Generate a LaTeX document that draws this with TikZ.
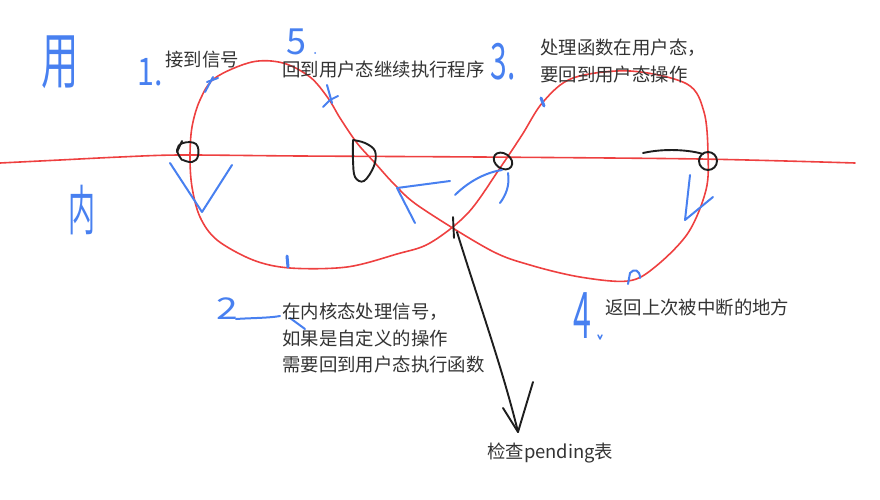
\documentclass[tikz,border=0pt]{standalone}
\usepackage{fontspec}
\setmainfont{Noto Sans CJK SC}
\definecolor{penred}{RGB}{238,64,64}
\definecolor{penblue}{RGB}{72,128,240}
\definecolor{penblack}{RGB}{30,30,30}
\definecolor{txt}{RGB}{51,51,51}
\begin{document}
\begin{tikzpicture}[x=1pt,y=-1pt,
  redpen/.style={draw=penred, line width=1.6pt, line cap=round, line join=round},
  bluepen/.style={draw=penblue, line width=2pt, line cap=round, line join=round},
  blackpen/.style={draw=penblack, line width=1.9pt, line cap=round, line join=round},
  lbl/.style={text=txt, font=\fontsize{18.4}{22}\selectfont, anchor=west, inner sep=0pt},
  hand/.style={text=penblue, inner sep=0pt}]
\useasboundingbox (0,0) rectangle (880,500);
% horizontal divider
\draw[redpen] plot[smooth] coordinates {(0,163) (60,160) (120,157) (180,155) (300,156) (480,157) (700,159) (855,163)};
% figure eight
\draw[redpen] plot[smooth cycle, tension=0.55] coordinates {(430,243) (468,213) (500,168) (522,135) (543,102) (573,78) (630,71) (687,84) (704,112) (708,153) (706,190) (688,233) (655,267) (628,281) (580,277) (530,265) (490,250) (420,207) (395,185) (375,163) (357,143) (340,118) (328,98) (310,77) (283,63) (252,62) (215,78) (200,100) (192,127) (190,157) (192,187) (200,217) (217,240) (253,260) (290,268) (347,267) (397,254)};
% black marks
\draw[blackpen] plot[smooth, tension=0.7] coordinates {(182,160) (177,150) (183,143) (196,144) (198,156) (192,162) (183,160)};
\draw[blackpen] (177,152) -- (182,141);
\draw[blackpen] plot[smooth, tension=0.6] coordinates {(353,140) (353,160) (355,177) (364,181) (374,166) (375,151) (365,143) (353,140)};
\draw[blackpen, rotate around={-35:(503,161)}] (503,161) ellipse [x radius=10, y radius=7.5];
\draw[blackpen] (643,153) .. controls (665,148) and (690,150) .. (703,154);
\draw[blackpen] (708,161) circle [radius=9];
\draw[blackpen] (453,217) -- (454,238);
\coordinate (tip) at (518,432);
\draw[blackpen] (457,232) .. controls (478,300) and (503,370) .. (tip);
\draw[blackpen] (503,408) -- (tip) -- (533,382);
% blue direction marks
\draw[bluepen] (170,163) -- (202,212) -- (232,165);
\draw[bluepen] (450,181) -- (397,188) -- (415,223);
\draw[bluepen] (455,195) .. controls (470,180) and (488,172) .. (502,170);
\draw[bluepen] (508,173) .. controls (510,185) and (506,195) .. (500,203);
\draw[bluepen] (690,175) -- (685,220) -- (713,197);
\draw[bluepen] (205,92) -- (213,77);
\draw[bluepen] (207,82) -- (218,78);
\draw[bluepen] (323,107) -- (330,100) -- (338,96);
\draw[bluepen] (327,85) -- (332,103);
\draw[bluepen, line width=3pt] (287,256) -- (288,267);
\draw[bluepen, line width=3pt] (541,98) -- (544,106);
\draw[bluepen] (628,284) -- (630,273) .. controls (634,268) and (640,270) .. (640,278);
\fill[penblue] (315,53) circle [radius=1];
\draw[bluepen, line width=1.5pt] (598,335) -- (600,339) -- (602,335);
% handwritten glyphs
\node[hand, font=\fontsize{62}{62}\selectfont, xscale=0.6] (yong) at (60,62) {用};
\node[hand, font=\fontsize{54}{54}\selectfont, xscale=0.5] (nei) at (82,210) {内};
\node[hand, font=\fontsize{38}{38}\selectfont, xscale=0.8] (n1) at (150,72) {1.};
\node[hand, font=\fontsize{36}{36}\selectfont] (n5) at (296,42) {5};
\node[hand, font=\fontsize{50}{50}\selectfont, xscale=0.6] (n3) at (503,62) {3.};
\node[hand, font=\fontsize{30}{30}\selectfont, xscale=1.3] (n2) at (227,309) {2};
\draw[bluepen] (236,319) .. controls (250,318) and (270,318) .. (280,316);
\draw[bluepen] (290,318) -- (305,329);
\node[hand, font=\fontsize{46}{46}\selectfont, xscale=0.7, yscale=1.4] (n4) at (582,316) {4};
% labels
\node[lbl] (l1) at (165,60) {接到信号};
\node[lbl] (l5) at (282,70) {回到用户态继续执行程序};
\node[lbl] (l3a) at (540,48) {处理函数在用户态，};
\node[lbl] (l3b) at (540,75) {要回到用户态操作};
\node[lbl] (l2a) at (282,312) {在内核态处理信号，};
\node[lbl] (l2b) at (282,338) {如果是自定义的操作};
\node[lbl] (l2c) at (282,365) {需要回到用户态执行函数};
\node[lbl] (l4) at (605,307) {返回上次被中断的地方};
\node[lbl] (lp) at (487,453) {检查pending表};
\end{tikzpicture}
\end{document}
